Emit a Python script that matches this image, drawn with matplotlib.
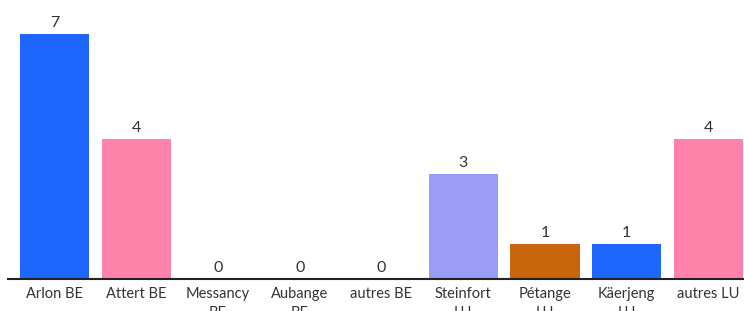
import matplotlib
matplotlib.use("Agg")
import matplotlib.pyplot as plt

categories = ["Arlon BE", "Attert BE", "Messancy\nBE", "Aubange\nBE", "autres BE",
              "Steinfort\nLU", "Pétange\nLU", "Käerjeng\nLU", "autres LU"]
values = [7, 4, 0, 0, 0, 3, 1, 1, 4]
colors = ["#1f66ff", "#ff82aa", "#ff82aa", "#ff82aa", "#ff82aa",
          "#9b9cf5", "#c9650c", "#1f66ff", "#ff82aa"]

plt.rcParams['font.family'] = ['Lato', 'DejaVu Sans']

fig = plt.figure(figsize=(7.44, 3.11), dpi=100)
ax = fig.add_axes([8/744, 32/311, 1 - 8/744, 1 - 32/311])
x = list(range(len(categories)))
ax.bar(x, values, width=0.845, color=colors)
for xi, v in zip(x, values):
    ax.text(xi, v + 0.12, str(v), ha="center", va="bottom", fontsize=11.5, color="#333333")

ax.set_xlim(-0.569, 8.434)
ax.set_ylim(0, 7.97)
ax.set_xticks(x)
ax.set_xticklabels(categories, fontsize=10.5, color="#333333", linespacing=1.45)
ax.tick_params(axis="x", length=0, pad=6)
ax.set_yticks([])
for s in ["top", "right", "left"]:
    ax.spines[s].set_visible(False)
ax.spines["bottom"].set_color("#222222")
ax.spines["bottom"].set_linewidth(1.5)

fig.savefig("out.png", dpi=100)
